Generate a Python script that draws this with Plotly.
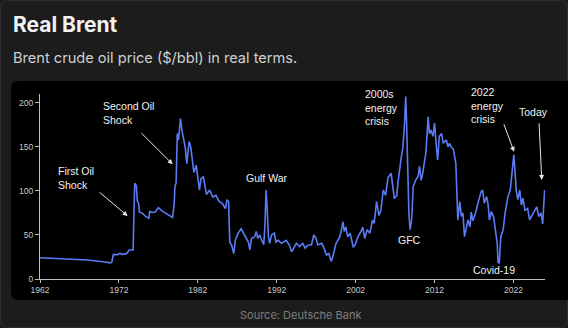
import plotly.graph_objects as go

# ---------------- data ----------------
years = [
    1962.0, 1964.0, 1966.0, 1968.0, 1970.0, 1970.9, 1971.1, 1971.3, 1971.8, 1972.1,
    1972.5, 1973.0, 1973.3, 1973.8, 1974.0, 1974.2, 1974.35, 1974.5, 1974.6, 1975.0,
    1975.4, 1975.8, 1975.9, 1976.3, 1976.6, 1976.8, 1977.0, 1977.5, 1978.0, 1978.5,
    1978.8, 1979.0, 1979.1, 1979.25, 1979.4, 1979.55, 1979.8, 1980.0, 1980.2, 1980.4,
    1980.6, 1980.9, 1981.1, 1981.3, 1981.5, 1981.8, 1982.0, 1982.2, 1982.4, 1982.7,
    1983.1, 1983.5, 1983.9, 1984.3, 1984.7, 1985.1, 1985.5, 1985.7, 1985.9, 1986.05,
    1986.3, 1986.55, 1986.75, 1987.1, 1987.5, 1987.9, 1988.2, 1988.4, 1988.6, 1988.8,
    1989.2, 1989.4, 1989.6, 1989.85, 1990.1, 1990.35, 1990.5, 1990.65, 1990.8, 1990.95,
    1991.1, 1991.35, 1991.7, 1991.9, 1992.2, 1992.6, 1993.2, 1993.6, 1993.9, 1994.3,
    1994.5, 1994.9, 1995.3, 1995.6, 1996.0, 1996.4, 1996.7, 1997.0, 1997.2, 1997.7,
    1998.0, 1998.3, 1998.6, 1998.9, 1999.1, 1999.5, 2000.0, 2000.2, 2000.4, 2000.55,
    2000.75, 2001.0, 2001.3, 2001.7, 2001.95, 2002.3, 2002.7, 2002.9, 2003.15, 2003.45,
    2003.8, 2004.15, 2004.35, 2004.65, 2004.95, 2005.2, 2005.5, 2005.8, 2006.1, 2006.5,
    2006.9, 2007.2, 2007.4, 2007.8, 2008.0, 2008.2, 2008.35, 2008.45, 2008.6, 2008.75,
    2008.9, 2009.1, 2009.3, 2009.6, 2009.9, 2010.1, 2010.3, 2010.5, 2010.9, 2011.2,
    2011.35, 2011.55, 2011.8, 2012.0, 2012.2, 2012.4, 2012.6, 2012.9, 2013.1, 2013.5,
    2013.7, 2013.9, 2014.1, 2014.4, 2014.7, 2014.8, 2014.95, 2015.2, 2015.4, 2015.6,
    2015.8, 2016.05, 2016.25, 2016.5, 2016.65, 2016.85, 2017.2, 2017.5, 2017.9, 2018.1,
    2018.3, 2018.6, 2018.8, 2018.95, 2019.2, 2019.5, 2019.7, 2019.95, 2020.05, 2020.2,
    2020.4, 2020.7, 2020.95, 2021.3, 2021.6, 2021.85, 2022.05, 2022.2, 2022.35, 2022.55,
    2022.8, 2023.0, 2023.2, 2023.45, 2023.8, 2024.05, 2024.3, 2024.6, 2024.95, 2025.2,
    2025.5, 2025.7, 2025.8, 2025.95,
]
prices = [
    24.2, 23.5, 22.5, 21.5, 19.5, 18.3, 19.0, 28.0, 27.5, 29.0,
    28.0, 29.0, 33.0, 33.0, 108.7, 106.0, 88.0, 86.0, 76.0, 74.5,
    71.0, 69.0, 76.5, 75.5, 76.0, 78.0, 81.0, 77.0, 74.0, 71.0,
    70.0, 85.0, 105.0, 109.0, 165.0, 158.0, 182.0, 168.0, 157.0, 150.0,
    131.0, 156.0, 150.0, 138.0, 121.0, 129.0, 117.0, 101.0, 114.0, 116.0,
    96.0, 101.0, 93.0, 95.0, 88.0, 86.0, 80.0, 90.0, 88.0, 42.0,
    38.0, 29.0, 44.0, 52.0, 57.0, 50.0, 46.0, 42.0, 33.0, 46.0,
    48.0, 54.0, 46.0, 50.0, 44.0, 39.0, 59.0, 101.0, 78.0, 48.0,
    40.5, 50.0, 52.0, 42.0, 44.0, 40.5, 44.0, 38.6, 31.0, 36.7,
    40.5, 36.7, 40.5, 35.0, 38.6, 38.6, 50.0, 46.0, 38.6, 40.5,
    35.0, 27.3, 29.0, 20.0, 25.0, 40.0, 48.0, 56.0, 65.0, 54.0,
    59.0, 48.0, 52.0, 36.0, 39.0, 48.0, 54.0, 59.0, 46.0, 56.0,
    52.0, 67.0, 63.0, 88.0, 72.0, 78.0, 101.0, 95.0, 115.0, 120.0,
    92.0, 94.0, 112.0, 139.0, 150.0, 177.0, 207.0, 181.0, 112.0, 75.0,
    56.0, 67.0, 105.0, 112.0, 116.0, 128.0, 112.0, 120.0, 143.0, 184.0,
    165.0, 169.0, 162.0, 177.0, 154.0, 135.0, 162.0, 165.0, 154.0, 158.0,
    150.0, 154.0, 150.0, 147.0, 131.0, 101.0, 67.0, 88.0, 71.0, 75.0,
    48.0, 59.0, 67.0, 59.0, 76.0, 66.0, 75.0, 86.0, 99.0, 101.0,
    86.0, 93.5, 84.0, 67.0, 76.5, 70.0, 57.6, 40.0, 19.0, 18.0,
    48.0, 56.0, 75.0, 93.5, 101.0, 124.0, 141.0, 122.0, 101.0, 90.0,
    101.0, 84.0, 91.7, 78.0, 80.0, 67.0, 71.0, 76.0, 82.0, 71.0,
    75.0, 62.5, 78.0, 101.0,
]

x_tick_vals = [1962, 1972, 1982, 1992, 2002, 2012, 2022]
x_tick_text = ["1962", "1972", "1982", "1992", "2002", "2012", "2022"]
y_tick_vals = [0, 50, 100, 150, 200]

labels = ["First Oil<br>Shock", "Second Oil<br>Shock", "Gulf War", "2000s<br>energy<br>crisis",
          "GFC", "2022<br>energy<br>crisis", "Today", "Covid-19"]
label_x = [1964.0, 1969.75, 1990.77, 2002.9, 2008.83, 2016.37, 2024.58, 2019.57]
label_y = [114.3, 188.4, 114.1, 194.5, 44.8, 197.5, 190.0, 10.2]
label_anchor = ["left", "left", "center", "left", "center", "left", "center", "center"]

arrow_head_x = [1973.11, 1978.82, 2022.08, 2025.59]
arrow_head_y = [71.5, 130.2, 144.5, 112.4]
arrow_tail_x = [1969.35, 1974.67, 2020.72, 2025.24]
arrow_tail_y = [99.9, 167.2, 177.4, 178.5]

# ---------------- layout geometry (pixels) ----------------
W, H = 568, 328
L, R, T, B = 40, 545, 94, 279


def px(xp):
    return (xp - L) / (R - L)


def py(yp):
    return (B - yp) / (B - T)


def rounded(x0, y0, x1, y1, r):
    pts = []
    pts.append(f"M {px(x0 + r)},{py(y0)}")
    pts.append(f"L {px(x1 - r)},{py(y0)}")
    pts.append(f"Q {px(x1)},{py(y0)} {px(x1)},{py(y0 + r)}")
    pts.append(f"L {px(x1)},{py(y1 - r)}")
    pts.append(f"Q {px(x1)},{py(y1)} {px(x1 - r)},{py(y1)}")
    pts.append(f"L {px(x0 + r)},{py(y1)}")
    pts.append(f"Q {px(x0)},{py(y1)} {px(x0)},{py(y1 - r)}")
    pts.append(f"L {px(x0)},{py(y0 + r)}")
    pts.append(f"Q {px(x0)},{py(y0)} {px(x0 + r)},{py(y0)}")
    pts.append("Z")
    return " ".join(pts)


fig = go.Figure()
fig.add_trace(go.Scatter(
    x=years, y=prices, mode="lines",
    line=dict(color="#5b7bf5", width=1.6),
    hoverinfo="skip", showlegend=False,
))

shapes = [
    dict(type="path", xref="paper", yref="paper", path=rounded(0.5, 0.5, 567.5, 327.5, 8),
         line=dict(color="#2e2e2e", width=1), fillcolor="rgba(0,0,0,0)", layer="below"),
    dict(type="path", xref="paper", yref="paper", path=rounded(11, 81, 575, 300, 7),
         line=dict(width=0), fillcolor="#000000", layer="below"),
]

annotations = []
annotations.append(dict(xref="paper", yref="paper", x=px(11), y=py(24), text="<b>Real Brent</b>",
                        showarrow=False, xanchor="left", yanchor="middle",
                        font=dict(family="Inter", size=21, color="#f2f2f2")))
annotations.append(dict(xref="paper", yref="paper", x=px(11), y=py(58),
                        text="Brent crude oil price ($/bbl) in real terms.",
                        showarrow=False, xanchor="left", yanchor="middle",
                        font=dict(family="Inter", size=14.6, color="#d0d0d0")))
annotations.append(dict(xref="paper", yref="paper", x=px(300), y=py(315),
                        text="Source: Deutsche Bank",
                        showarrow=False, xanchor="center", yanchor="middle",
                        font=dict(family="Inter", size=11, color="#7e7e7e")))

for t, xx, yy, an in zip(labels, label_x, label_y, label_anchor):
    annotations.append(dict(x=xx, y=yy, xref="x", yref="y", text=t, showarrow=False,
                            xanchor=an, yanchor="middle", align="left",
                            font=dict(family="Liberation Sans", size=10.5, color="#f0f0f0")))

for hx, hy, tx, ty in zip(arrow_head_x, arrow_head_y, arrow_tail_x, arrow_tail_y):
    annotations.append(dict(x=hx, y=hy, xref="x", yref="y", ax=tx, ay=ty,
                            axref="x", ayref="y", text="", showarrow=True,
                            arrowhead=2, arrowsize=1, arrowwidth=1,
                            arrowcolor="#e6e6e6", standoff=0, startstandoff=0))

fig.update_layout(
    width=W, height=H,
    margin=dict(l=L, r=W - R, t=T, b=H - B, pad=0),
    paper_bgcolor="#1c1c1c",
    plot_bgcolor="rgba(0,0,0,0)",
    shapes=shapes,
    annotations=annotations,
    showlegend=False,
    xaxis=dict(
        range=[1962, 2026], tickmode="array", tickvals=x_tick_vals, ticktext=x_tick_text,
        showgrid=False, zeroline=False, showline=True, linecolor="#bdbdbd", linewidth=1,
        ticks="outside", ticklen=3, tickcolor="#bdbdbd", tickwidth=1,
        tickfont=dict(family="Liberation Sans", size=8.5, color="#c8c8c8"),
        fixedrange=True,
    ),
    yaxis=dict(
        range=[0, 210], tickmode="array", tickvals=y_tick_vals,
        showgrid=False, zeroline=False, showline=True, linecolor="#bdbdbd", linewidth=1,
        ticks="outside", ticklen=4, tickcolor="#bdbdbd", tickwidth=1,
        tickfont=dict(family="Liberation Sans", size=8.5, color="#c8c8c8"),
        fixedrange=True,
    ),
)

fig.write_html("out.html", config={"displayModeBar": False})
